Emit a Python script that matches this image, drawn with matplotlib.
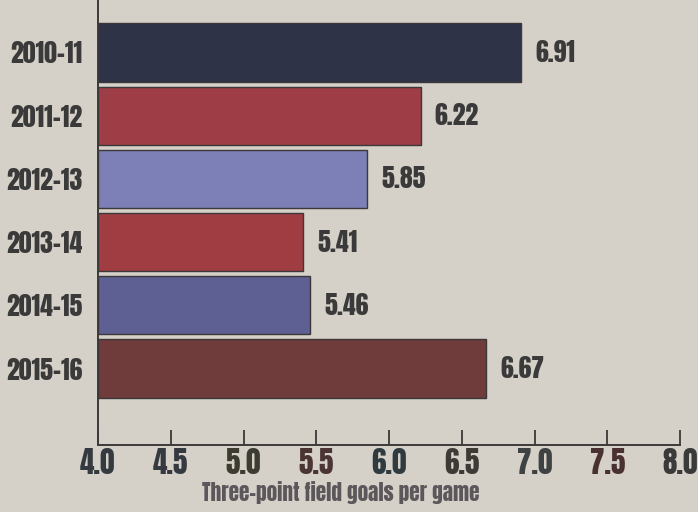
import numpy as np
import matplotlib.pyplot as plt

seasons = ['2010-11', '2011-12', '2012-13', '2013-14', '2014-15', '2015-16']
threes = [6.91, 6.22, 5.85, 5.41, 5.46, 6.67]
bar_cols = ['#2f3347', '#9e3d46', '#7c80b6', '#a03d43', '#5e5f93', '#6f3b3b']
xticks = [4.0, 4.5, 5.0, 5.5, 6.0, 6.5, 7.0, 7.5, 8.0]
xtick_cols = ['#343a40', '#353a40', '#3d3c30', '#4a3434', '#2f3b3f',
              '#3e3a36', '#3f4242', '#4a3131', '#3a3a3a']

bg = '#d5d0c8'
ink = '#3b3a3a'
fnt = ['Anton', 'Oswald', 'Barlow Condensed', 'DejaVu Sans']

fig = plt.figure(figsize=(6.98, 5.12), dpi=100, facecolor=bg)
ax = fig.add_axes([98 / 698, 67 / 512, 582 / 698, 445 / 512])
ax.set_facecolor(bg)

ypos = np.arange(len(seasons))
ax.barh(ypos, [v - 4.0 for v in threes], left=4.0, height=0.92,
        color=bar_cols, edgecolor='#3a3838', linewidth=1.0)

# value labels just past each bar end
for y, v in zip(ypos, threes):
    ax.text(v + 0.095, y, f'{v:.2f}', va='center', ha='left',
            fontsize=18.5, color=ink, family=fnt)

ax.set_xlim(4.0, 8.0)
ax.set_ylim(6.21, -0.83)
ax.set_yticks(ypos)
ax.set_yticklabels(seasons, fontsize=18.5, color=ink, family=fnt)
ax.tick_params(axis='y', length=0, pad=11)

ax.set_xticks(xticks)
ax.set_xticklabels([f'{t:.1f}' for t in xticks], fontsize=21, family=fnt)
for lab, c in zip(ax.get_xticklabels(), xtick_cols):
    lab.set_color(c)
ax.tick_params(axis='x', direction='in', length=11, width=1.3, color=ink, pad=2)

for s in ['top', 'right']:
    ax.spines[s].set_visible(False)
for s in ['left', 'bottom']:
    ax.spines[s].set_color(ink)
    ax.spines[s].set_linewidth(1.4)

fig.text(341 / 698, 1 - 493 / 512, 'Three-point field goals per game', ha='center', va='center',
         fontsize=15.3, color='#5b575b', family=fnt)

fig.savefig('out.png', dpi=100, facecolor=bg)
